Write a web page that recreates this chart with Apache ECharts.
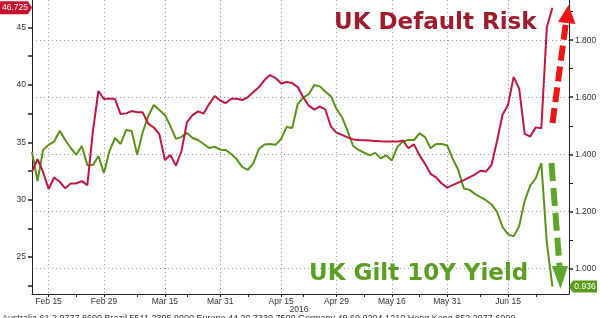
<!DOCTYPE html>
<html><head><meta charset="utf-8">
<script src="https://cdn.jsdelivr.net/npm/echarts@6/dist/echarts.min.js"></script>
<style>html,body{margin:0;padding:0;background:#fff}#c{width:600px;height:318px}</style>
</head><body><div id="c"></div>
<script>
// Business days (UK), Feb 10 – Jun 27 2016, plus three empty trailing days
const dates = ['Feb 10','Feb 11','Feb 12','Feb 15','Feb 16','Feb 17','Feb 18','Feb 19','Feb 22','Feb 23','Feb 24','Feb 25','Feb 26','Feb 29','Mar 1','Mar 2','Mar 3','Mar 4','Mar 7','Mar 8','Mar 9','Mar 10','Mar 11','Mar 14','Mar 15','Mar 16','Mar 17','Mar 18','Mar 21','Mar 22','Mar 23','Mar 24','Mar 29','Mar 30','Mar 31','Apr 1','Apr 4','Apr 5','Apr 6','Apr 7','Apr 8','Apr 11','Apr 12','Apr 13','Apr 14','Apr 15','Apr 18','Apr 19','Apr 20','Apr 21','Apr 22','Apr 25','Apr 26','Apr 27','Apr 28','Apr 29','May 3','May 4','May 5','May 6','May 9','May 10','May 11','May 12','May 13','May 16','May 17','May 18','May 19','May 20','May 23','May 24','May 25','May 26','May 27','May 31','Jun 1','Jun 2','Jun 3','Jun 6','Jun 7','Jun 8','Jun 9','Jun 10','Jun 13','Jun 14','Jun 15','Jun 16','Jun 17','Jun 20','Jun 21','Jun 22','Jun 23','Jun 24','Jun 27','Jun 28','Jun 29','Jun 30'];

// UK sovereign CDS (left axis)
const cdsRisk = [32.43,33.54,32.41,30.93,31.93,31.56,30.99,31.42,31.42,31.62,
  31.27,35.98,39.47,38.77,38.81,38.77,37.46,37.52,37.72,37.61,
  37.61,36.63,36.29,35.72,33.45,33.89,32.97,34.24,36.76,37.37,
  37.70,37.51,38.33,39.03,38.64,38.42,38.80,38.80,38.68,38.94,
  39.38,39.81,40.42,40.86,40.60,40.12,40.25,40.16,39.81,38.92,
  38.19,37.85,38.12,37.84,36.36,35.84,35.65,35.43,35.25,35.20,
  35.18,35.15,35.12,35.09,35.07,35.07,35.06,35.16,34.48,34.82,
  33.86,33.12,32.25,31.95,31.41,31.05,31.27,31.49,31.71,31.95,
  32.19,32.52,32.45,33.02,35.11,37.40,38.28,40.70,39.68,35.74,
  35.50,36.30,36.22,45.04,46.725];

// UK Gilt 10Y yield (right axis)
const giltYield = [1.408,1.306,1.415,1.433,1.444,1.482,1.450,1.422,1.398,1.429,
  1.362,1.362,1.394,1.334,1.412,1.457,1.436,1.485,1.482,1.398,
  1.478,1.534,1.573,1.555,1.538,1.499,1.454,1.461,1.475,1.457,
  1.450,1.436,1.422,1.426,1.416,1.415,1.401,1.382,1.355,1.345,
  1.369,1.419,1.434,1.436,1.433,1.454,1.496,1.492,1.576,1.599,
  1.611,1.643,1.638,1.619,1.603,1.559,1.530,1.482,1.429,1.415,
  1.406,1.396,1.405,1.386,1.396,1.379,1.426,1.445,1.450,1.450,
  1.473,1.460,1.421,1.436,1.436,1.431,1.384,1.345,1.280,1.276,
  1.261,1.250,1.239,1.224,1.198,1.145,1.119,1.112,1.148,1.237,
  1.290,1.316,1.369,1.089,0.936];

const tickLabels = ['Feb 15','Feb 29','Mar 15','Mar 31','Apr 15','Apr 29','May 16','May 31','Jun 15'];
const minorTickDates = ['Feb 22','Mar 8','Mar 21','Apr 7','Apr 21','May 9','May 23','Jun 8','Jun 22'];
const leftLabels = [25,30,35,40,45];
const leftTicks = [22.5,25,27.5,30,32.5,35,37.5,40,42.5,45];
const rightLabels = [1.0,1.2,1.4,1.6,1.8];
const rightMinorTicks = [1.1,1.3,1.5,1.7,1.9];
const titleRed = 'UK Default Risk';
const titleGreen = 'UK Gilt 10Y Yield';
const yearLabel = '2016';
const footer = 'Australia 61 2 9777 8600 Brazil 5511 2395 9000 Europe 44 20 7330 7500 Germany 49 69 9204 1210 Hong Kong 852 2977 6000';

const FONT = '"Liberation Sans", Arial, sans-serif';
const RED_LINE = '#c0173e', GREEN_LINE = '#5a9218';
const AXIS = '#222';
const LEFT_MIN = 21.78, LEFT_MAX = 47.40, RIGHT_MIN = 0.910, RIGHT_MAX = 1.941;

const chart = echarts.init(document.getElementById('c'));
chart.setOption({
  animation: false,
  backgroundColor: '#fff',
  grid: {left: 32, right: 31, top: 0, bottom: 24},
  xAxis: {
    type: 'category', data: dates, boundaryGap: false,
    axisLine: {onZero: false, lineStyle: {color: AXIS, width: 1}},
    axisTick: {show: true, length: 3, interval: (i, v) => tickLabels.includes(v) || minorTickDates.includes(v), lineStyle: {color: AXIS}},
    axisLabel: {interval: (i, v) => tickLabels.includes(v), margin: 3, fontSize: 8.5, color: '#333', fontFamily: FONT},
    splitLine: {show: true, interval: (i, v) => tickLabels.includes(v), lineStyle: {color: '#9a9a9a', width: 1, type: [1, 3]}}
  },
  yAxis: [
    {
      type: 'value', position: 'left', min: LEFT_MIN, max: LEFT_MAX,
      axisLine: {show: true, onZero: false, lineStyle: {color: AXIS}},
      axisTick: {show: true, length: 4, customValues: leftTicks, lineStyle: {color: AXIS, width: 1.5}},
      axisLabel: {customValues: leftLabels, margin: 6, fontSize: 8.5, color: '#333', fontFamily: FONT},
      splitLine: {show: false}
    },
    {
      type: 'value', position: 'right', min: RIGHT_MIN, max: RIGHT_MAX,
      axisLine: {show: true, onZero: false, lineStyle: {color: AXIS}},
      axisTick: {show: true, length: 4, customValues: rightLabels, lineStyle: {color: AXIS, width: 1.5}},
      axisLabel: {customValues: rightLabels, margin: 6, fontSize: 8.5, color: '#333', fontFamily: FONT, formatter: v => v.toFixed(3)},
      splitLine: {show: true, lineStyle: {color: '#9a9a9a', width: 1, type: [1, 3]}}
    },
    {
      type: 'value', position: 'right', min: RIGHT_MIN, max: RIGHT_MAX,
      axisLine: {show: false},
      axisTick: {show: true, length: 4, customValues: rightMinorTicks, lineStyle: {color: AXIS, width: 1}},
      axisLabel: {show: false},
      splitLine: {show: false}
    }
  ],
  series: [
    {type: 'line', yAxisIndex: 1, data: giltYield, showSymbol: false, symbol: 'none',
     lineStyle: {color: GREEN_LINE, width: 2}, itemStyle: {color: GREEN_LINE}, z: 2},
    {type: 'line', yAxisIndex: 0, data: cdsRisk, showSymbol: false, symbol: 'none',
     lineStyle: {color: RED_LINE, width: 2}, itemStyle: {color: RED_LINE}, z: 3}
  ]
});

// last-value tags placed through the axes' own scales
const lastRed = cdsRisk[cdsRisk.length - 1];
const lastGreen = giltYield[giltYield.length - 1];
const yR = Math.max(7, chart.convertToPixel({yAxisIndex: 0}, lastRed));
const yG = chart.convertToPixel({yAxisIndex: 1}, lastGreen);

chart.setOption({
  graphic: [
    // red dashed arrow
    {type: 'line', shape: {x1: 552.5, y1: 123, x2: 566, y2: 22}, style: {stroke: '#ee1515', lineWidth: 6, lineDash: [15, 6]}, z: 10},
    {type: 'polygon', shape: {points: [[568.5, 5], [558, 22], [575.5, 24]]}, style: {fill: '#ee1515'}, z: 10},
    // green dashed arrow
    {type: 'line', shape: {x1: 551.5, y1: 163, x2: 559.5, y2: 266}, style: {stroke: '#5ea62a', lineWidth: 6, lineDash: [18, 7]}, z: 10},
    {type: 'polygon', shape: {points: [[552, 266], [568, 266], [560.5, 289]]}, style: {fill: '#5ea62a'}, z: 10},
    // titles
    {type: 'text', x: 334, y: 23.5, style: {text: titleRed, fill: '#a01b2d', font: 'bold 23px "DejaVu Sans"', align: 'left', verticalAlign: 'middle'}, z: 5},
    {type: 'text', x: 309, y: 274, style: {text: titleGreen, fill: '#5c9e22', font: 'bold 23px "DejaVu Sans"', align: 'left', verticalAlign: 'middle'}, z: 5},
    // last value tags
    {type: 'polygon', shape: {points: [[0, yR - 6.5], [28, yR - 6.5], [32, yR], [28, yR + 6.5], [0, yR + 6.5]]}, style: {fill: '#c8102e'}, z: 11},
    {type: 'text', x: 15, y: yR, style: {text: lastRed.toFixed(3), fill: '#fff', font: '8.5px ' + FONT, align: 'center', verticalAlign: 'middle'}, z: 12},
    {type: 'polygon', shape: {points: [[569, yG], [573, yG - 6], [597, yG - 6], [597, yG + 6], [573, yG + 6]]}, style: {fill: '#5a9a1c'}, z: 11},
    {type: 'text', x: 585, y: yG, style: {text: lastGreen.toFixed(3), fill: '#fff', font: '8.5px ' + FONT, align: 'center', verticalAlign: 'middle'}, z: 12},
    // year and footer
    {type: 'text', x: 299, y: 310, style: {text: yearLabel, fill: '#333', font: '8.5px ' + FONT, align: 'center', verticalAlign: 'middle'}},
    {type: 'text', x: 2, y: 314.5, style: {text: footer, fill: '#333', font: '9px ' + FONT, align: 'left', verticalAlign: 'top'}}
  ]
});
</script></body></html>
